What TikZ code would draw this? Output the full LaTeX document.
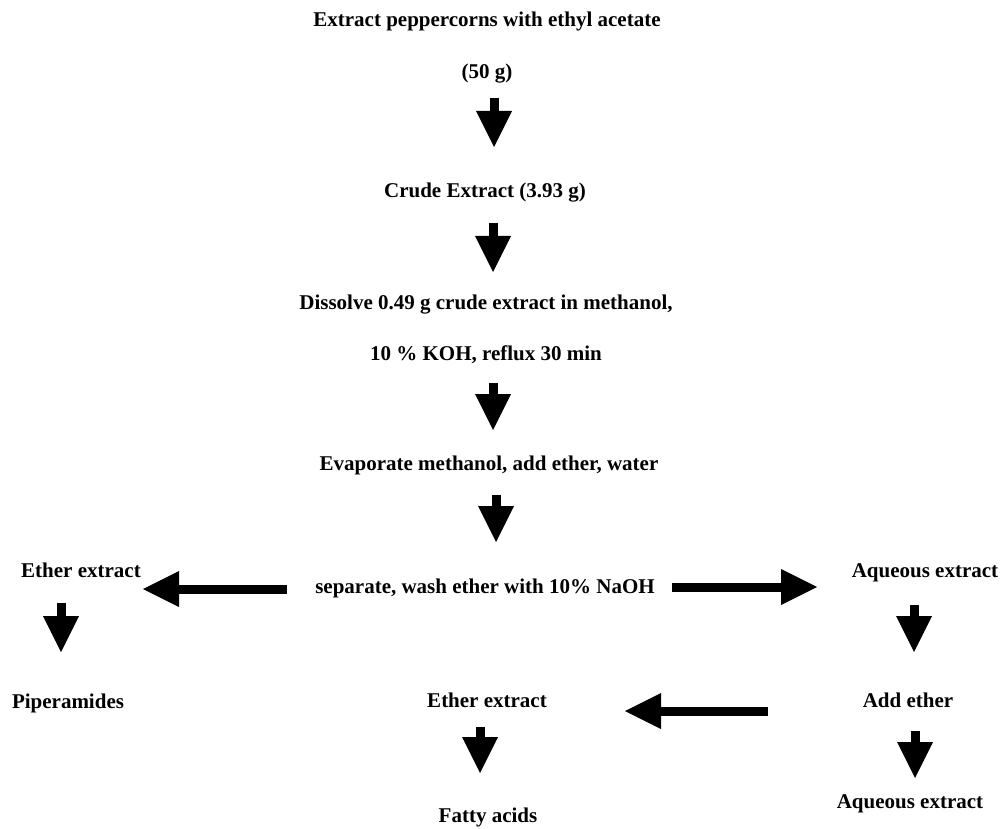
\documentclass[tikz,border=0pt]{standalone}
\usepackage{fontspec}
\setmainfont{Liberation Serif}
\usepackage{tikz}
\usetikzlibrary{arrows.meta}
\tikzset{
  lbl/.style={font=\bfseries\fontsize{21}{25}\selectfont, anchor=base, inner sep=0pt},
  blockarrow/.style={line width=9pt, -{Triangle[width=36pt,length=36pt,line width=0pt]}},
}

\begin{document}
\begin{tikzpicture}[x=1pt, y=-1pt]
  \useasboundingbox (0,0) rectangle (1004,829);
  % main column
  \node[lbl] (extract) at (487,27) {Extract peppercorns with ethyl acetate};
  \node[lbl] (mass) at (487,79) {(50 g)};
  \node[lbl] (crude) at (485,198) {Crude Extract (3.93 g)};
  \node[lbl] (dissolve) at (486,309) {Dissolve 0.49 g crude extract in methanol,};
  \node[lbl] (koh) at (486,360) {10 \% KOH, reflux 30 min};
  \node[lbl] (evap) at (489,470) {Evaporate methanol, add ether, water};
  \node[lbl] (separate) at (485,593) {separate, wash ether with 10\% NaOH};
  % branches
  \node[lbl] (ether1) at (81,577) {Ether extract};
  \node[lbl] (pip) at (68,708) {Piperamides};
  \node[lbl] (aq1) at (925,577) {Aqueous extract};
  \node[lbl] (addeth) at (908,707) {Add ether};
  \node[lbl] (aq2) at (910,808) {Aqueous extract};
  \node[lbl] (ether2) at (487,707) {Ether extract};
  \node[lbl] (fatty) at (488,822) {Fatty acids};

  % arrow ends
  \coordinate (a1s) at (494,98);   \coordinate (a1e) at (494,147);
  \coordinate (a2s) at (493,223);  \coordinate (a2e) at (493,272);
  \coordinate (a3s) at (493,383);  \coordinate (a3e) at (493,430);
  \coordinate (a4s) at (496,495);  \coordinate (a4e) at (496,542);
  \coordinate (lfs) at (287,589);  \coordinate (lfe) at (143,589);
  \coordinate (rts) at (672,587);  \coordinate (rte) at (817,587);
  \coordinate (pps) at (61,603);   \coordinate (ppe) at (61,652);
  \coordinate (aqs) at (914,605);  \coordinate (aqe) at (914,652);
  \coordinate (ads) at (915,731);  \coordinate (ade) at (915,778);
  \coordinate (ets) at (768,711);  \coordinate (ete) at (625,711);
  \coordinate (fas) at (480,727);  \coordinate (fae) at (480,773);

  \draw[blockarrow] (a1s) -- (a1e);
  \draw[blockarrow] (a2s) -- (a2e);
  \draw[blockarrow] (a3s) -- (a3e);
  \draw[blockarrow] (a4s) -- (a4e);
  \draw[blockarrow] (lfs) -- (lfe);
  \draw[blockarrow] (rts) -- (rte);
  \draw[blockarrow] (pps) -- (ppe);
  \draw[blockarrow] (aqs) -- (aqe);
  \draw[blockarrow] (ads) -- (ade);
  \draw[blockarrow] (ets) -- (ete);
  \draw[blockarrow] (fas) -- (fae);
\end{tikzpicture}
\end{document}
